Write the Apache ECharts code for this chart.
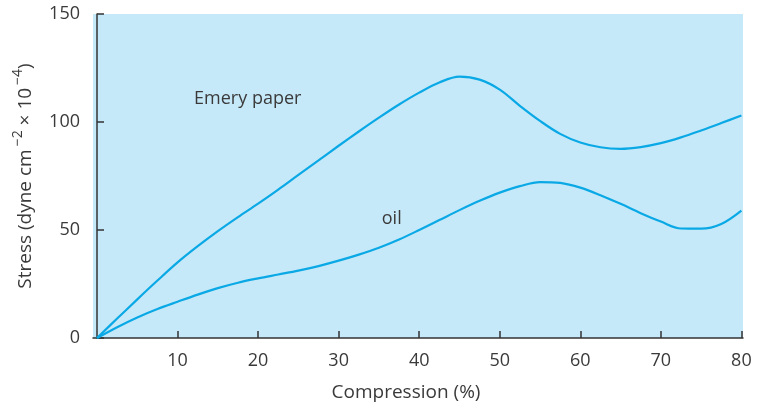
<!DOCTYPE html>
<html>
<head>
<meta charset="utf-8">
<script src="https://cdn.jsdelivr.net/npm/echarts@6/dist/echarts.min.js"></script>
<style>html,body{margin:0;padding:0;background:#fff}#c{width:757px;height:404px}</style>
</head>
<body>
<div id="c"></div>
<script>
var xTicks = [10, 20, 30, 40, 50, 60, 70, 80];
var compression = [0, 2.5, 5, 7.5, 10, 12.5, 15, 17.5, 20, 22.5, 25, 27.5, 30, 32.5, 35, 37.5, 40,
  42.5, 45, 47.5, 50, 52.5, 55, 57.5, 60, 62.5, 65, 67.5, 70, 72.5, 75, 77.5, 80];
var emeryPaper = [0, 9, 17.9, 26.6, 35, 42.5, 49.5, 56, 62.2, 68.7, 75.5, 82.2, 89, 95.6, 102, 108.1, 113.6,
  118.3, 121, 119.6, 115, 107.5, 100.5, 94.5, 90.5, 88.3, 87.6, 88.4, 90.2, 92.9, 96.1, 99.5, 103];
var oil = [0, 5, 9.5, 13.4, 16.8, 20.1, 23.1, 25.6, 27.6, 29.4, 31.2, 33.3, 35.8, 38.6, 41.8, 45.6, 50,
  54.6, 59.2, 63.5, 67.3, 70.3, 72.2, 71.8, 69.6, 66.1, 62.1, 57.8, 53.9, 50.7, 50.6, 52.8, 59];
var labelEmery = ['Emery paper', 12.05, 110.6];
var labelOil = ['oil', 35.35, 55.1];

function pairs(xs, ys) { return xs.map(function (x, i) { return [x, ys[i]]; }); }

var FONT = 'Open Sans';
var TXT = '#3a3a3a';
var LINE = '#0aa9e6';
var FS = 18;

function mp(lbl) {
  return {
    symbol: 'circle', symbolSize: 0, silent: true,
    data: [{ coord: [lbl[1], lbl[2]], value: lbl[0] }],
    label: { show: true, position: 'right', distance: 0, formatter: lbl[0],
      color: TXT, fontFamily: FONT, fontSize: FS }
  };
}

var chart = echarts.init(document.getElementById('c'), null, { renderer: 'canvas' });
chart.setOption({
  animation: false,
  grid: { left: 93, right: 14, top: 14, bottom: 66, show: true, backgroundColor: '#c6e9f9', borderWidth: 0,
    outerBoundsMode: 'none', containLabel: false },
  xAxis: {
    type: 'value', min: -0.5, max: 80.2,
    name: 'Compression (%)', nameLocation: 'middle', nameGap: 45,
    nameTextStyle: { color: TXT, fontFamily: FONT, fontSize: 19, padding: [0, 24, 0, 0] },
    axisLine: { show: true, lineStyle: { color: '#333', width: 1.5 } },
    axisTick: { show: true, inside: true, length: 7, customValues: xTicks, lineStyle: { color: '#333', width: 1.5 } },
    axisLabel: { customValues: xTicks, color: TXT, fontFamily: FONT, fontSize: FS, margin: 14 },
    splitLine: { show: false }
  },
  yAxis: {
    type: 'value', min: 0, max: 150, interval: 50,
    name: '{a|Stress (dyne cm}{s|−2}{a| × 10}{s|−4}{a|)}',
    nameLocation: 'middle', nameGap: 58, nameRotate: 90,
    nameTextStyle: {
      color: TXT, fontFamily: FONT, fontSize: 19,
      rich: {
        a: { color: TXT, fontFamily: FONT, fontSize: 19, lineHeight: 24, verticalAlign: 'bottom' },
        s: { color: TXT, fontFamily: FONT, fontSize: 14, lineHeight: 24, verticalAlign: 'top', padding: [0, 0, 0, 3] }
      }
    },
    axisLine: { show: true, lineStyle: { color: '#333', width: 1.5 } },
    axisTick: { show: true, inside: true, length: 7, lineStyle: { color: '#333', width: 1.5 } },
    axisLabel: { color: TXT, fontFamily: FONT, fontSize: FS, margin: 13 },
    splitLine: { show: false }
  },
  series: [
    { type: 'line', name: 'Emery paper', data: pairs(compression, emeryPaper), smooth: 0.35,
      showSymbol: false, lineStyle: { color: LINE, width: 2.2 }, markPoint: mp(labelEmery) },
    { type: 'line', name: 'oil', data: pairs(compression, oil), smooth: 0.35,
      showSymbol: false, lineStyle: { color: LINE, width: 2.2 }, markPoint: mp(labelOil) }
  ]
});
</script>
</body>
</html>
